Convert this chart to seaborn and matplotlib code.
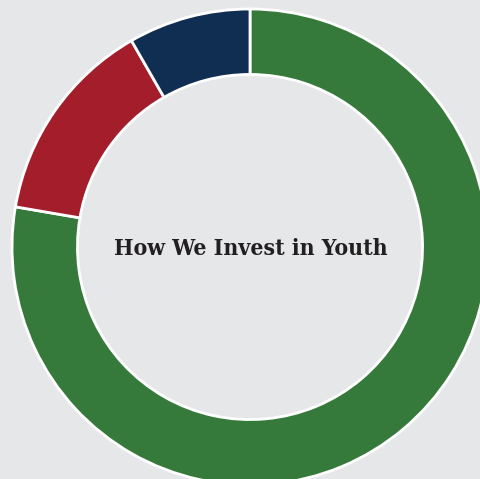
import matplotlib
matplotlib.use("Agg")
import matplotlib.pyplot as plt
import seaborn as sns

# share of youth investment (read from the ring)
categories = ["Programs", "Operations", "Other"]
shares = [77.7, 14.0, 8.3]
colors = ["#367a3b", "#a31d2b", "#102e52"]
title = "How We Invest in Youth"

bg = "#e6e7e9"
sns.set_style("white")

fig = plt.figure(figsize=(4.8, 4.79), dpi=100, facecolor=bg)
ax = fig.add_axes([0, 0, 1, 1], facecolor=bg)

palette = sns.color_palette(colors)
wedges, _ = ax.pie(shares, labels=None, colors=palette, startangle=90,
                   counterclock=False, radius=1.0,
                   wedgeprops=dict(width=0.275, edgecolor="white", linewidth=2))

# ring centre sits at roughly (250, 247) px with a 238 px radius; the
# right and bottom sides run off the canvas
r = 238.0
ax.set_xlim(-250 / r, 230 / r)
ax.set_ylim(-(479 - 247) / r, 247 / r)
ax.set_aspect("auto")
ax.axis("off")

ax.text(0.005, -0.01, title, ha="center", va="center", fontsize=16.5,
        fontweight="bold", family="DejaVu Serif", fontstretch="condensed",
        color="#231f20")

fig.savefig("out.png", dpi=100, facecolor=bg)
